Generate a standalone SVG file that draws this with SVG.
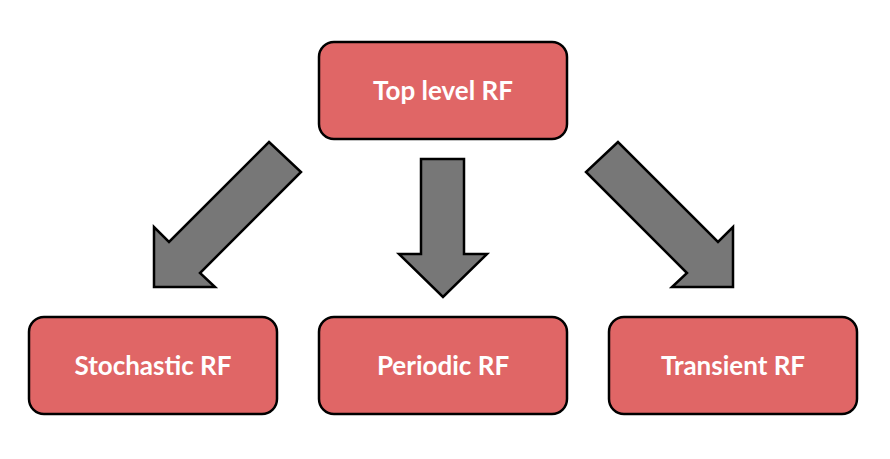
<svg xmlns="http://www.w3.org/2000/svg" width="890" height="459" viewBox="0 0 890 459">
<style>
.box{fill:#e06666;stroke:#000;stroke-width:2.5}
.lbl{font-family:Lato,"Liberation Sans",sans-serif;font-weight:bold;font-size:26px;fill:#fff;text-anchor:middle}
.arr{fill:#777;stroke:#000;stroke-width:2.5;stroke-linejoin:miter}
</style>
<rect width="890" height="459" fill="#fff"/>
<g id="connectors">
<polygon class="arr" points="269,142 301,172 200,273 215,287 154,287 154,227 169,242"/>
<polygon class="arr" points="421,159 464,159 464,254 487,254 443,297 399,254 421,254"/>
<polygon class="arr" points="618,142 586,172 687,273 672,287 733,287 733,227 718,242"/>
</g>
<g id="top">
<rect class="box" x="319" y="42" width="248" height="97" rx="15"/>
<text class="lbl" x="443" y="100">Top level RF</text>
</g>
<g id="stochastic">
<rect class="box" x="29" y="317" width="248" height="97" rx="15"/>
<text class="lbl" x="153" y="375">Stochastic RF</text>
</g>
<g id="periodic">
<rect class="box" x="319" y="317" width="248" height="97" rx="15"/>
<text class="lbl" x="443" y="375">Periodic RF</text>
</g>
<g id="transient">
<rect class="box" x="609" y="317" width="248" height="97" rx="15"/>
<text class="lbl" x="733" y="375">Transient RF</text>
</g>
</svg>
